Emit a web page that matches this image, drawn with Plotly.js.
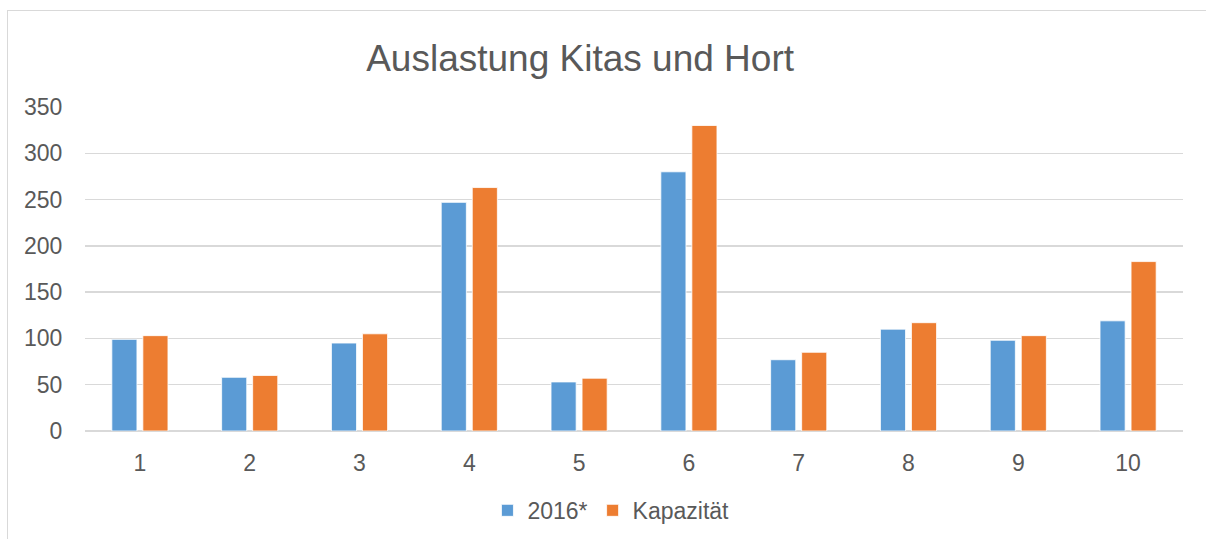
<!DOCTYPE html>
<html>
<head>
<meta charset="utf-8">
<script src="https://cdn.plot.ly/plotly-3.0.1.min.js"></script>
<style>
html,body{margin:0;padding:0;background:#fff;overflow:hidden;}
#chart{position:absolute;left:0;top:0;width:1206px;height:539px;}
#frame{position:absolute;left:7px;top:10px;width:1300px;height:700px;border-left:1.5px solid #d9d9d9;border-top:1.5px solid #d9d9d9;pointer-events:none;}
</style>
</head>
<body>
<div id="chart"></div>
<div id="frame"></div>
<script>
const categories = ["1","2","3","4","5","6","7","8","9","10"];
const series2016 = [99, 58, 95, 247, 53, 280, 77, 110, 98, 119];
const seriesKapazitaet = [103, 60, 105, 263, 57, 330, 85, 117, 103, 183];
const yTicks = [0, 50, 100, 150, 200, 250, 300, 350];

const font = "Liberation Sans, Arial, sans-serif";
const txt = "#595959";

const traces = [
  {type:"bar", name:"2016*", x:categories, y:series2016,
   marker:{color:"#5B9BD5", line:{color:"#ffffff", width:0.8}}},
  {type:"bar", name:"Kapazität", x:categories, y:seriesKapazitaet,
   marker:{color:"#ED7D31", line:{color:"#ffffff", width:0.8}}}
];

const layout = {
  width:1206, height:539,
  paper_bgcolor:"rgba(0,0,0,0)", plot_bgcolor:"#ffffff",
  margin:{l:85, r:23, t:107, b:107.5, pad:0, autoexpand:false},
  barmode:"group", bargap:0.435, bargroupgap:0.19,
  title:{text:"Auslastung Kitas und Hort", x:0.481, xref:"container", xanchor:"center",
         y:0.892, yref:"container", yanchor:"middle", automargin:false,
         font:{family:font, size:37, color:txt}},
  xaxis:{type:"category", showgrid:false, zeroline:false, showline:false, automargin:false,
         ticks:"outside", ticklen:11, tickcolor:"rgba(0,0,0,0)",
         tickfont:{family:font, size:23, color:txt}, fixedrange:true},
  yaxis:{range:[0,350], tickvals:yTicks, showgrid:true, gridcolor:"#d9d9d9", gridwidth:1.5,
         zeroline:true, zerolinecolor:"#d9d9d9", zerolinewidth:1.5, showline:false, automargin:false,
         ticks:"outside", ticklen:17, tickcolor:"rgba(0,0,0,0)",
         tickfont:{family:font, size:23, color:txt}, fixedrange:true},
  showlegend:true,
  legend:{orientation:"h", x:0.479, xanchor:"center", y:-0.245, yanchor:"middle",
          font:{family:font, size:23, color:txt}, itemwidth:30, tracegroupgap:0,
          bgcolor:"rgba(0,0,0,0)"}
};

Plotly.newPlot("chart", traces, layout, {displayModeBar:false, staticPlot:true});
</script>
</body>
</html>
